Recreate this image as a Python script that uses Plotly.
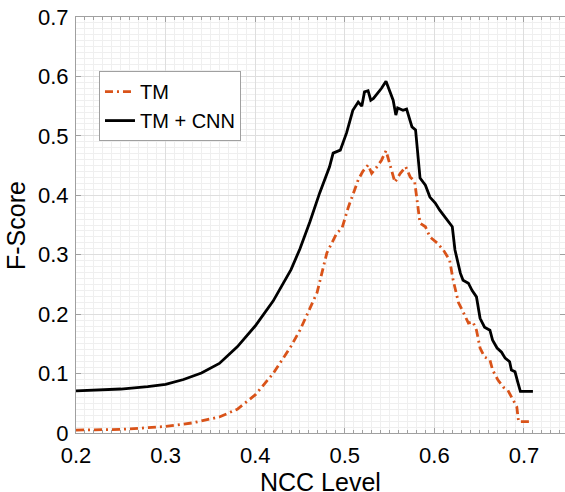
import plotly.graph_objects as go

# NCC level (x) and F-score values
tm_x = [0.200, 0.250, 0.280, 0.300, 0.330, 0.360, 0.380, 0.400, 0.420, 0.440, 0.450,
        0.460, 0.469, 0.480, 0.487, 0.491, 0.497, 0.504, 0.515, 0.520, 0.526, 0.530,
        0.536, 0.541, 0.546, 0.550, 0.556, 0.562, 0.568, 0.573, 0.578, 0.584, 0.590,
        0.595, 0.603, 0.610, 0.617, 0.621, 0.627, 0.632, 0.638, 0.643, 0.647, 0.651,
        0.656, 0.662, 0.665, 0.671, 0.677, 0.682, 0.688, 0.692, 0.694, 0.710]
tm_y = [0.005, 0.006, 0.009, 0.011, 0.017, 0.027, 0.040, 0.064, 0.100, 0.146, 0.173,
        0.205, 0.236, 0.303, 0.325, 0.336, 0.345, 0.380, 0.426, 0.440, 0.451, 0.437,
        0.448, 0.459, 0.475, 0.454, 0.422, 0.437, 0.448, 0.431, 0.423, 0.353, 0.347,
        0.330, 0.320, 0.308, 0.291, 0.257, 0.219, 0.204, 0.185, 0.187, 0.173, 0.143,
        0.128, 0.123, 0.106, 0.089, 0.077, 0.072, 0.056, 0.044, 0.019, 0.019]

cnn_x = [0.200, 0.220, 0.250, 0.280, 0.300, 0.320, 0.340, 0.360, 0.380, 0.400, 0.420,
         0.440, 0.450, 0.461, 0.472, 0.483, 0.487, 0.495, 0.502, 0.509, 0.515, 0.519,
         0.522, 0.526, 0.529, 0.532, 0.537, 0.541, 0.546, 0.550, 0.554, 0.557, 0.559,
         0.565, 0.569, 0.575, 0.579, 0.584, 0.590, 0.595, 0.601, 0.606, 0.614, 0.620,
         0.623, 0.629, 0.632, 0.638, 0.642, 0.647, 0.651, 0.656, 0.662, 0.665, 0.670,
         0.675, 0.679, 0.684, 0.686, 0.690, 0.693, 0.696, 0.710]
cnn_y = [0.071, 0.072, 0.074, 0.078, 0.082, 0.090, 0.101, 0.117, 0.145, 0.180, 0.222,
         0.275, 0.310, 0.355, 0.404, 0.448, 0.471, 0.476, 0.505, 0.543, 0.557, 0.550,
         0.574, 0.576, 0.560, 0.563, 0.572, 0.580, 0.592, 0.577, 0.560, 0.535, 0.547,
         0.543, 0.545, 0.515, 0.510, 0.429, 0.417, 0.397, 0.387, 0.375, 0.358, 0.347,
         0.308, 0.269, 0.257, 0.252, 0.240, 0.229, 0.193, 0.178, 0.173, 0.156, 0.143,
         0.136, 0.126, 0.120, 0.106, 0.103, 0.086, 0.070, 0.070]

x_ticks = [0.2, 0.3, 0.4, 0.5, 0.6, 0.7]
x_tick_text = ["0.2", "0.3", "0.4", "0.5", "0.6", "0.7"]
y_ticks = [0, 0.1, 0.2, 0.3, 0.4, 0.5, 0.6, 0.7]
y_tick_text = ["0", "0.1", "0.2", "0.3", "0.4", "0.5", "0.6", "0.7"]
x_title = "NCC Level"
y_title = "F-Score"

FONT = "Liberation Sans, Arial, sans-serif"

fig = go.Figure()
fig.add_trace(go.Scatter(x=tm_x, y=tm_y, mode="lines", name="TM",
                         line=dict(color="#D95319", width=2.8, dash="8px,4px,2px,4px")))
fig.add_trace(go.Scatter(x=cnn_x, y=cnn_y, mode="lines", name="TM + CNN",
                         line=dict(color="black", width=2.8)))

axis_common = dict(
    showline=True, linecolor="#a0a0a0", linewidth=1.2, mirror="allticks",
    ticks="inside", ticklen=5, tickcolor="#a0a0a0", tickwidth=1,
    showgrid=True, gridcolor="#dedede", gridwidth=1,
    zeroline=False, automargin=False,
    tickfont=dict(family=FONT, size=22, color="black"),
)

fig.update_xaxes(range=[0.2, 0.7458], tickvals=x_ticks, ticktext=x_tick_text,
                 ticklabelstandoff=2,
                 minor=dict(dtick=0.01, ticks="inside", ticklen=3, tickcolor="#a0a0a0",
                            showgrid=True, gridcolor="#efefef", gridwidth=1),
                 **axis_common)
fig.update_yaxes(range=[0, 0.7], tickvals=y_ticks, ticktext=y_tick_text,
                 ticklabelstandoff=2,
                 minor=dict(dtick=0.01, ticks="", showgrid=True,
                            gridcolor="#efefef", gridwidth=1),
                 **axis_common)

fig.add_annotation(text=x_title, xref="paper", yref="paper", x=0.5, y=-0.117,
                   xanchor="center", yanchor="middle", showarrow=False,
                   font=dict(family=FONT, size=25, color="black"))
fig.add_annotation(text=y_title, xref="paper", yref="paper", x=-0.1227, y=0.5,
                   xanchor="center", yanchor="middle", showarrow=False, textangle=-90,
                   font=dict(family=FONT, size=25, color="black"))

fig.update_layout(
    width=565, height=492,
    margin=dict(l=76, r=0, t=17, b=59),
    paper_bgcolor="white", plot_bgcolor="white",
    font=dict(family=FONT, color="black"),
    showlegend=True,
    legend=dict(x=0.047, y=0.870, xanchor="left", yanchor="top",
                bgcolor="white", bordercolor="#a0a0a0", borderwidth=1,
                font=dict(family=FONT, size=20, color="black"),
                itemwidth=30, tracegroupgap=0),
)

# remove the default 8px page margin so the figure fills the window exactly
fig.write_html("out.html",
               config={"displayModeBar": False},
               post_script="document.body.style.margin='0';document.body.style.overflow='hidden';")
